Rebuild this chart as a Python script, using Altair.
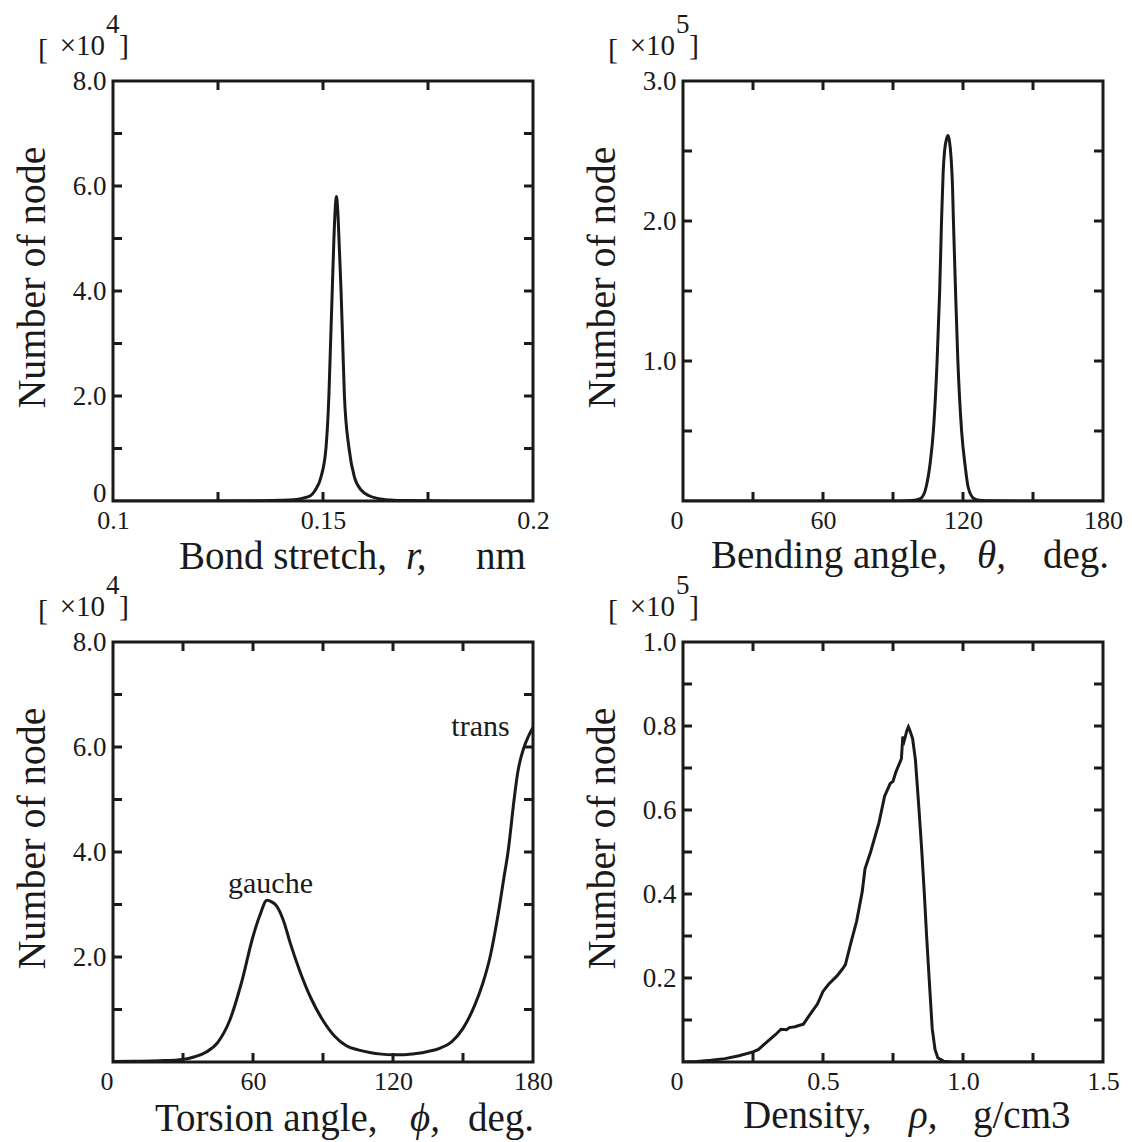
import altair as alt
import pandas as pd

FONT = "Liberation Serif"
INK = "#1a1a1a"

# ---------------- data ----------------
bond_r = [0.100, 0.120, 0.135, 0.140, 0.143, 0.145, 0.147, 0.1481, 0.1495, 0.1507,
          0.1514, 0.1518, 0.1522, 0.1526, 0.1529, 0.1532, 0.1535, 0.1539, 0.1543, 0.1547,
          0.1551, 0.1562, 0.1575, 0.1592, 0.161, 0.163, 0.166, 0.170, 0.180, 0.200]
bond_n = [0, 0, 0.005, 0.012, 0.025, 0.05, 0.1, 0.2, 0.45, 1.0,
          2.0, 3.0, 4.0, 5.0, 5.55, 5.8, 5.55, 4.8, 4.0, 3.0,
          2.0, 1.0, 0.45, 0.2, 0.1, 0.05, 0.02, 0.008, 0.002, 0]

bend_t = [0, 60, 90, 96, 100, 102, 104.2, 106, 107.3, 108.9, 110.0, 110.8, 111.5, 112.1,
          113.0, 113.6, 114.2, 114.9, 115.5, 115.9, 116.8, 117.8, 119.4, 121, 122.2, 124.5,
          127, 132, 180]
bend_n = [0, 0, 0.0005, 0.002, 0.008, 0.02, 0.1, 0.28, 0.5, 1.0, 1.5, 2.0, 2.35, 2.5,
          2.59, 2.61, 2.57, 2.45, 2.25, 2.0, 1.5, 1.0, 0.5, 0.24, 0.1, 0.02,
          0.005, 0.001, 0]

tors_phi = [0, 10, 20, 30, 35, 40, 45, 50, 55, 60, 63, 66, 68, 70, 73, 76, 80, 85, 90, 95,
            100, 105, 110, 115, 120, 125, 130, 135, 140, 145, 150, 155, 158.5, 161.6, 165,
            167.5, 169.3, 171.9, 173.4, 176.2, 178, 180]
tors_n = [0.01, 0.015, 0.025, 0.05, 0.1, 0.19, 0.38, 0.79, 1.5, 2.39, 2.8, 3.08, 3.05, 2.98,
          2.7, 2.26, 1.74, 1.2, 0.79, 0.49, 0.31, 0.23, 0.18, 0.15, 0.14, 0.14, 0.16, 0.2,
          0.26, 0.38, 0.64, 1.08, 1.5, 2.0, 2.8, 3.5, 4.0, 5.0, 5.5, 6.0, 6.2, 6.37]

dens_rho = [0, 0.05, 0.1, 0.15, 0.2, 0.25, 0.27, 0.3, 0.33, 0.35, 0.37, 0.38, 0.4, 0.42, 0.43,
            0.45, 0.48, 0.5, 0.52, 0.55, 0.57, 0.58, 0.6, 0.62, 0.64, 0.65, 0.67, 0.7, 0.72,
            0.74, 0.75, 0.76, 0.78, 0.785, 0.79, 0.80, 0.805, 0.81, 0.82, 0.83, 0.843, 0.853,
            0.862, 0.87, 0.879, 0.89, 0.9, 0.91, 0.93, 0.96, 1.0, 1.5]
dens_n = [0, 0.001, 0.004, 0.008, 0.015, 0.024, 0.03, 0.048, 0.065, 0.078, 0.077, 0.082, 0.084,
          0.088, 0.09, 0.11, 0.138, 0.168, 0.185, 0.205, 0.222, 0.232, 0.285, 0.335, 0.405,
          0.46, 0.5, 0.57, 0.633, 0.663, 0.668, 0.69, 0.722, 0.775, 0.765, 0.79, 0.798, 0.79,
          0.77, 0.72, 0.6, 0.5, 0.4, 0.3, 0.2, 0.08, 0.03, 0.01, 0.002, 0, 0, 0]

note_phi = [67.5, 157.5]
note_n = [3.22, 6.21]
note_text = ["gauche", "trans"]

# axis label / tick values
p1_xlabels = [0.1, 0.15, 0.2]
p1_ylabels = [0, 2, 4, 6, 8]
p1_xticks = [0.125, 0.15, 0.175]
p1_yticks = [1, 2, 3, 4, 5, 6, 7]

p2_xlabels = [0, 60, 120, 180]
p2_ylabels = [1, 2, 3]
p2_xticks = [30, 60, 90, 120, 150]
p2_yticks = [0.5, 1.0, 1.5, 2.0, 2.5]

p3_xlabels = [0, 60, 120, 180]
p3_ylabels = [2, 4, 6, 8]
p3_xticks = [30, 60, 90, 120, 150]
p3_yticks = [1, 2, 3, 4, 5, 6, 7]

p4_xlabels = [0, 0.5, 1.0, 1.5]
p4_ylabels = [0.2, 0.4, 0.6, 0.8, 1.0]
p4_xticks = [0.25, 0.5, 0.75, 1.0, 1.25]
p4_yticks = [0.1, 0.2, 0.3, 0.4, 0.5, 0.6, 0.7, 0.8, 0.9]

W = 420
H = 420
TICK = 9


def text_piece(txt, px, py, size, align="left", italic=False):
    return alt.Chart(pd.DataFrame({"t": [txt]})).mark_text(
        font=FONT, fontSize=size, align=align, baseline="alphabetic", color=INK,
        fontStyle="italic" if italic else "normal",
    ).encode(text="t:N", x=alt.value(px), y=alt.value(py))


def panel(cx, cy, xdom, ydom, xlabels, ylabels, xticks, yticks, xexpr, yexpr,
          exponent, title_parts, title_base, interp, notes=None):
    xs = alt.Scale(domain=xdom, nice=False, zero=False)
    ys = alt.Scale(domain=ydom, nice=False, zero=False)
    xaxis = alt.Axis(
        values=xlabels, labelExpr=xexpr, ticks=False, domain=False, grid=False, title=None,
        labelFlush=False, labelOverlap=False, labelBound=False, labelPadding=6, labelFontSize=26,
        labelAlign={"condition": {"test": "datum.value == 0", "value": "right"}, "value": "center"},
    )
    yaxis = alt.Axis(
        values=ylabels, labelExpr=yexpr, ticks=False, domain=False, grid=False,
        title="Number of node", titleX=-69, titleY=196, titleBaseline="alphabetic",
        labelFlush=False, labelOverlap=False, labelBound=False, labelPadding=7,
        labelBaseline={"condition": {"test": "datum.value == 0", "value": "alphabetic"},
                       "value": "middle"},
    )
    df = pd.DataFrame({"x": cx, "y": cy})
    line = alt.Chart(df).mark_line(color=INK, strokeWidth=3, interpolate=interp, clip=True).encode(
        x=alt.X("x:Q", scale=xs, axis=xaxis),
        y=alt.Y("y:Q", scale=ys, axis=yaxis),
    )
    xt = pd.DataFrame({"x": xticks})
    yt = pd.DataFrame({"y": yticks})
    rule = dict(color=INK, strokeWidth=3)
    bottom = alt.Chart(xt).mark_rule(**rule).encode(
        x=alt.X("x:Q", scale=xs, axis=xaxis), y=alt.value(H), y2=alt.value(H - TICK))
    top = alt.Chart(xt).mark_rule(**rule).encode(
        x=alt.X("x:Q", scale=xs, axis=xaxis), y=alt.value(0), y2=alt.value(TICK))
    left = alt.Chart(yt).mark_rule(**rule).encode(
        y=alt.Y("y:Q", scale=ys, axis=yaxis), x=alt.value(0), x2=alt.value(TICK))
    right = alt.Chart(yt).mark_rule(**rule).encode(
        y=alt.Y("y:Q", scale=ys, axis=yaxis), x=alt.value(W - TICK), x2=alt.value(W))

    layers = [line, bottom, top, left, right]
    if notes is not None:
        nx, ny, nt = notes
        layers.append(alt.Chart(pd.DataFrame({"x": nx, "y": ny, "t": nt})).mark_text(
            font=FONT, fontSize=30, align="center", baseline="alphabetic", color=INK
        ).encode(x=alt.X("x:Q", scale=xs, axis=xaxis), y=alt.Y("y:Q", scale=ys, axis=yaxis),
                 text="t:N"))
    # multiplier label  [ x10^n ]
    layers.append(text_piece("[", -75, -22, 30))
    layers.append(text_piece("\u00d710", -8, -26, 29, align="right"))
    layers.append(text_piece(exponent, -7, -48, 27))
    layers.append(text_piece("]", 6, -26, 30))
    # x title built of normal / italic pieces
    for txt, px, it in title_parts:
        layers.append(text_piece(txt, px, H + title_base, 39, italic=it))
    return alt.layer(*layers).properties(width=W, height=H)


p1 = panel(bond_r, bond_n, [0.1, 0.2], [0, 8], p1_xlabels, p1_ylabels, p1_xticks, p1_yticks,
           "'' + datum.value", "datum.value == 0 ? '0' : format(datum.value, '.1f')",
           "4", [("Bond stretch,", 66, False), ("r,", 293, True), ("nm", 363, False)], 68,
           "monotone")
p2 = panel(bend_t, bend_n, [0, 180], [0, 3], p2_xlabels, p2_ylabels, p2_xticks, p2_yticks,
           "'' + datum.value", "format(datum.value, '.1f')",
           "5", [("Bending angle,", 28, False), ("\u03b8,", 294, True), ("deg.", 360, False)], 67,
           "monotone")
p3 = panel(tors_phi, tors_n, [0, 180], [0, 8], p3_xlabels, p3_ylabels, p3_xticks, p3_yticks,
           "'' + datum.value", "format(datum.value, '.1f')",
           "4", [("Torsion angle,", 42, False), ("\u03d5,", 297, True), ("deg.", 355, False)], 69,
           "monotone", notes=(note_phi, note_n, note_text))
p4 = panel(dens_rho, dens_n, [0, 1.5], [0, 1.0], p4_xlabels, p4_ylabels, p4_xticks, p4_yticks,
           "datum.value == 0 ? '0' : format(datum.value, '.1f')", "format(datum.value, '.1f')",
           "5", [("Density,", 60, False), ("\u03c1,", 226, True), ("g/cm3", 290, False)], 66,
           "linear")

chart = alt.concat(
    p1, p2, p3, p4, columns=2, spacing={"row": 141, "column": 150}, bounds="flush"
).configure_view(
    stroke=INK, strokeWidth=3
).configure_axis(
    labelFont=FONT, labelFontSize=27, labelColor=INK,
    titleFont=FONT, titleFontSize=40, titleColor=INK, titleFontWeight="normal",
).properties(
    padding={"left": 10, "top": 9, "right": 5, "bottom": 0}, background="white"
)

chart.save("out.html", embed_options={"renderer": "svg", "actions": False})
